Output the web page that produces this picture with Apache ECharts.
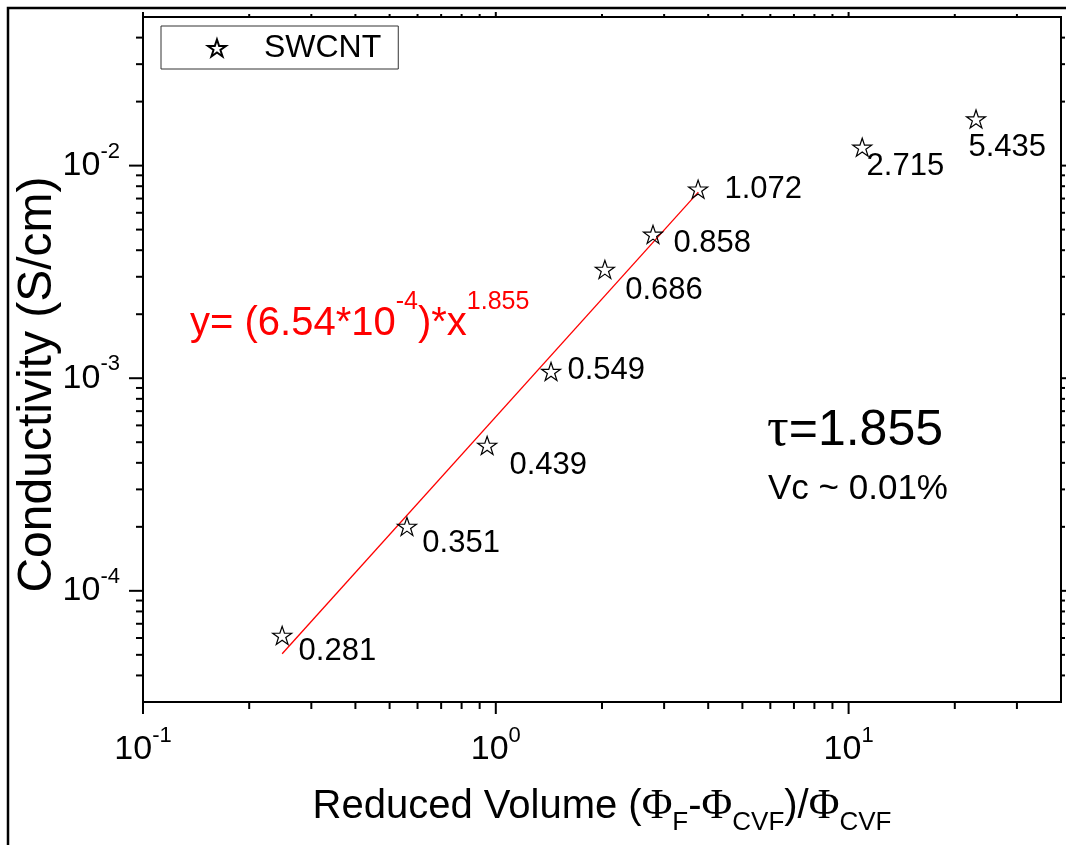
<!DOCTYPE html>
<html><head><meta charset="utf-8">
<script src="https://cdn.jsdelivr.net/npm/echarts@6/dist/echarts.min.js"></script>
<style>html,body{margin:0;padding:0;background:#fff}#c{width:1066px;height:845px}</style>
</head><body><div id="c"></div>
<script>
// ---- data ----
const seriesName = 'SWCNT';
const reducedVolume = [0.248, 0.560, 0.945, 1.434, 2.038, 2.79, 3.745, 10.93, 22.97];
const conductivity = [6.17e-5, 2.01e-4, 4.83e-4, 1.076e-3, 3.25e-3, 4.75e-3, 7.75e-3, 0.0122, 0.01657];
const pointLabels = ['0.281', '0.351', '0.439', '0.549', '0.686', '0.858', '1.072', '2.715', '5.435'];
const fitX = [0.248, 3.75];
const fitY = [5.06e-5, 7.5e-3];
const xMajorTicks = [0.1, 1, 10];
const xMinorTicks = [0.2, 0.3, 0.4, 0.5, 0.6, 0.7, 0.8, 0.9, 2, 3, 4, 5, 6, 7, 8, 9, 20, 30];
const yMajorTicks = [1e-4, 1e-3, 1e-2];
const yMinorTicks = [4e-5, 5e-5, 6e-5, 7e-5, 8e-5, 9e-5, 2e-4, 3e-4, 4e-4, 5e-4, 6e-4, 7e-4, 8e-4, 9e-4,
  2e-3, 3e-3, 4e-3, 5e-3, 6e-3, 7e-3, 8e-3, 9e-3, 0.02, 0.03, 0.04];
const X_MIN = 0.1, X_MAX = 40, Y_MIN = 3e-5, Y_MAX = 0.05;

// ---- layout (label offsets from symbol centre, px) ----
const labelDx = [17, 16, 23, 17, 21, 21, 27, 5, -7];
const labelDy = [17, 18, 21, 0, 22, 10, 1, 20, 29];

const FONT = "'Liberation Sans', Arial, sans-serif";
const SERIF = "'Liberation Serif', 'Times New Roman', serif";
const STAR = 'path://M50,0 L61.8,35.3 L98.9,35.3 L68.8,57.1 L80.3,92.7 L50,70.9 L19.7,92.7 L31.2,57.1 L1.1,35.3 L38.2,35.3 Z';
const SYM_W = 19, SYM_H = 18;

function expFormatter(v) {
  const e = Math.log10(v);
  if (Math.abs(e - Math.round(e)) > 1e-6) return '';
  return '{b|10}{s|' + Math.round(e) + '}';
}
const tickRich = {
  b: { fontSize: 34, lineHeight: 50, fontFamily: FONT, color: '#000' },
  s: { fontSize: 22, lineHeight: 20, verticalAlign: 'top', fontFamily: FONT, color: '#000' }
};

function xTickRender(len, mirrorLen) {
  return function (params, api) {
    const v = api.value(0);
    const p = api.coord([v, Y_MIN]);
    const q = api.coord([v, Y_MAX]);
    const st = { stroke: '#000', lineWidth: 2 };
    return { type: 'group', children: [
      { type: 'line', shape: { x1: p[0], y1: p[1], x2: p[0], y2: p[1] + len }, style: st },
      { type: 'line', shape: { x1: q[0], y1: q[1], x2: q[0], y2: q[1] - mirrorLen }, style: st }
    ]};
  };
}
function yTickRender(len, mirrorLen) {
  return function (params, api) {
    const v = api.value(1);
    const p = api.coord([X_MIN, v]);
    const q = api.coord([X_MAX, v]);
    const st = { stroke: '#000', lineWidth: 2 };
    return { type: 'group', children: [
      { type: 'line', shape: { x1: p[0], y1: p[1], x2: p[0] - len, y2: p[1] }, style: st },
      { type: 'line', shape: { x1: q[0], y1: q[1], x2: q[0] + mirrorLen, y2: q[1] }, style: st }
    ]};
  };
}

const chart = echarts.init(document.getElementById('c'), null, { renderer: 'canvas' });
chart.setOption({
  animation: false,
  backgroundColor: '#fff',
  grid: { left: 143, top: 17, width: 918, height: 685, show: true, borderColor: '#000', borderWidth: 2,
    backgroundColor: 'transparent', containLabel: false, outerBoundsMode: 'none' },
  legend: {
    data: [seriesName], left: 161, top: 26, orient: 'horizontal',
    itemWidth: 18, itemHeight: 17, icon: STAR,
    padding: [6, 17, 5, 46], borderColor: '#333', borderWidth: 1,
    textStyle: { fontSize: 32, fontFamily: FONT, color: '#000', padding: [0, 0, 0, 33] }
  },
  xAxis: {
    type: 'log', logBase: 10, min: X_MIN, max: X_MAX,
    axisLine: { show: true, lineStyle: { color: '#000', width: 2 } },
    axisTick: { show: false }, splitLine: { show: false }, minorTick: { show: false },
    axisLabel: { formatter: expFormatter, margin: 23, rich: tickRich, showMinLabel: true, showMaxLabel: false },
    name: '{n|Reduced Volume (}{p|Φ}{u|F}{n|-}{p|Φ}{u|CVF}{n|)/}{p|Φ}{u|CVF}',
    nameLocation: 'middle', nameGap: 76,
    nameTextStyle: { fontSize: 40, fontFamily: FONT, color: '#000', rich: {
      n: { fontSize: 40, lineHeight: 58, fontFamily: FONT, color: '#000' },
      p: { fontSize: 42, lineHeight: 58, fontFamily: SERIF, color: '#000' },
      u: { fontSize: 26, lineHeight: 26, verticalAlign: 'bottom', fontFamily: FONT, color: '#000' }
    } }
  },
  yAxis: {
    type: 'log', logBase: 10, min: Y_MIN, max: Y_MAX,
    axisLine: { show: true, lineStyle: { color: '#000', width: 2 } },
    axisTick: { show: false }, splitLine: { show: false }, minorTick: { show: false },
    axisLabel: { formatter: expFormatter, margin: 23, rich: tickRich, showMinLabel: false, showMaxLabel: false },
    name: 'Conductivity (S/cm)', nameLocation: 'middle', nameGap: 81, nameRotate: 90, nameMoveOverlap: false,
    nameTextStyle: { fontSize: 48, fontFamily: FONT, color: '#000', padding: [0, 50, 0, 0] }
  },
  graphic: [
    { type: 'rect', shape: { x: 8, y: 8, width: 1080, height: 860 }, style: { fill: 'none', stroke: '#000', lineWidth: 2.5 }, silent: true, z: 0 },
    { type: 'text', x: 190, y: 324, silent: true, style: {
      text: '{a|y= (6.54*10}{s|-4}{a|)*x}{s|1.855}', verticalAlign: 'middle', align: 'left',
      rich: {
        a: { fontSize: 40, lineHeight: 68, fontFamily: FONT, fill: '#ff0000' },
        s: { fontSize: 25, lineHeight: 28, verticalAlign: 'top', fontFamily: FONT, fill: '#ff0000' }
      } } },
    { type: 'text', x: 767, y: 431, silent: true, style: {
      text: '{t|τ}{n|=1.855}', verticalAlign: 'middle', align: 'left',
      rich: {
        t: { fontSize: 54, fontFamily: SERIF, fill: '#000' },
        n: { fontSize: 50, fontFamily: FONT, fill: '#000' }
      } } },
    { type: 'text', x: 768, y: 489, silent: true, style: {
      text: 'Vc ~ 0.01%', verticalAlign: 'middle', align: 'left', fontSize: 35, fontFamily: FONT, fill: '#000' } }
  ],
  series: [
    {
      type: 'line', name: 'fit', data: fitX.map((x, i) => [x, fitY[i]]),
      showSymbol: false, symbol: 'none', silent: true, z: 3,
      lineStyle: { color: '#ff0000', width: 1.3 }
    },
    {
      type: 'scatter', name: seriesName, symbol: STAR, symbolSize: [SYM_W, SYM_H], z: 5,
      itemStyle: { color: 'rgba(255,255,255,0)', borderColor: '#000', borderWidth: 1.2, opacity: 1 },
      data: reducedVolume.map((x, i) => ({
        value: [x, conductivity[i]],
        label: { position: [SYM_W / 2 + labelDx[i], SYM_H / 2 + labelDy[i]] }
      })),
      label: { show: true, align: 'left', verticalAlign: 'middle',
        formatter: p => pointLabels[p.dataIndex], fontSize: 31, fontFamily: FONT, color: '#000',
        textBorderWidth: 0 },
      labelLayout: { hideOverlap: false }
    },
    { type: 'custom', name: 'xMajor', silent: true, clip: false, z: 6, renderItem: xTickRender(12, 5), data: xMajorTicks.map(v => [v, Y_MIN]) },
    { type: 'custom', name: 'xMinor', silent: true, clip: false, z: 6, renderItem: xTickRender(7, 3), data: xMinorTicks.map(v => [v, Y_MIN]) },
    { type: 'custom', name: 'yMajor', silent: true, clip: false, z: 6, renderItem: yTickRender(14, 6), data: yMajorTicks.map(v => [X_MIN, v]) },
    { type: 'custom', name: 'yMinor', silent: true, clip: false, z: 6, renderItem: yTickRender(7, 4), data: yMinorTicks.map(v => [X_MIN, v]) }
  ]
});
</script></body></html>
